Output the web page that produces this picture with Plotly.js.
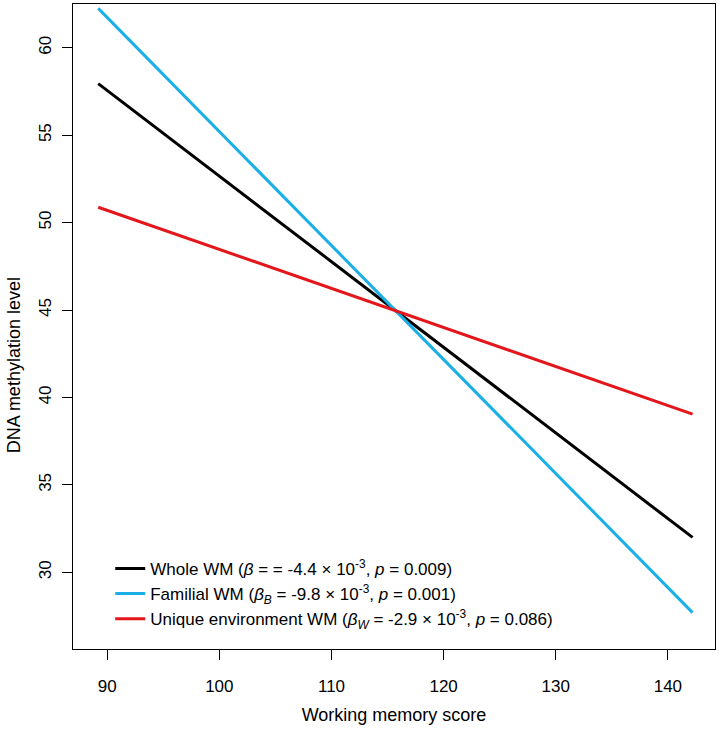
<!DOCTYPE html>
<html>
<head>
<meta charset="utf-8">
<script src="https://cdn.plot.ly/plotly-3.0.1.min.js"></script>
<style>body{margin:0;padding:0;background:#fff}#chart{width:719px;height:730px}</style>
</head>
<body>
<div id="chart"></div>
<script>
// Fitted lines: endpoints
const xEnds = [89.2, 142.2];
const wholeY = [57.95, 32.0];
const familialY = [62.25, 27.7];
const uniqueY = [50.88, 39.05];

const seriesNames = [
  "Whole WM (<i>β</i> = = -4.4 × 10<sup>-3</sup>, <i>p</i> = 0.009)",
  "Familial WM (<i>β<sub>B</sub></i> = -9.8 × 10<sup>-3</sup>, <i>p</i> = 0.001)",
  "Unique environment WM (<i>β<sub>W</sub></i> = -2.9 × 10<sup>-3</sup>, <i>p</i> = 0.086)"
];
const seriesColors = ["#000000", "#1AAFE6", "#E3161B"];

const xTicks = [90, 100, 110, 120, 130, 140];
const yTicks = [30, 35, 40, 45, 50, 55, 60];
const xTitle = "Working memory score";
const yTitle = "DNA methylation level";

const ys = [wholeY, familialY, uniqueY];
const traces = ys.map((y, i) => ({
  x: xEnds, y: y, type: "scatter", mode: "lines",
  name: seriesNames[i], legendgroup: "g" + i,
  line: {color: seriesColors[i], width: 3},
  hoverinfo: "skip"
}));

const font = {family: "Liberation Sans, Arial, sans-serif", color: "#000"};

const layout = {
  width: 719, height: 730,
  margin: {l: 73, r: 4, t: 4, b: 81},
  paper_bgcolor: "#fff", plot_bgcolor: "#fff",
  font: Object.assign({size: 17}, font),
  showlegend: true,
  legend: {
    x: 0.058, y: 0.152, xanchor: "left", yanchor: "top",
    bgcolor: "rgba(0,0,0,0)", borderwidth: 0,
    font: Object.assign({size: 17}, font),
    tracegroupgap: 3, traceorder: "normal"
  },
  xaxis: {
    range: [86.95, 144.2], tickvals: xTicks, ticktext: xTicks.map(String),
    ticks: "outside", ticklen: 10, tickwidth: 1, tickcolor: "#000",
    showline: true, linecolor: "#000", linewidth: 1, mirror: true,
    showgrid: false, zeroline: false,
    tickfont: Object.assign({size: 17}, font),
    ticklabelstandoff: 12,
    title: {text: xTitle, font: Object.assign({size: 18}, font), standoff: 12}
  },
  yaxis: {
    range: [25.62, 62.5], tickvals: yTicks, ticktext: yTicks.map(String),
    ticks: "outside", ticklen: 10, tickwidth: 1, tickcolor: "#000",
    showline: true, linecolor: "#000", linewidth: 1, mirror: true,
    showgrid: false, zeroline: false, tickangle: -90,
    tickfont: Object.assign({size: 17}, font),
    ticklabelstandoff: 4
  },
  annotations: [{
    text: yTitle, textangle: -90, showarrow: false,
    xref: "paper", yref: "paper", x: -0.092, y: 0.44,
    xanchor: "center", yanchor: "middle",
    font: Object.assign({size: 18}, font)
  }]
};

Plotly.newPlot("chart", traces, layout, {displayModeBar: false, staticPlot: true});
</script>
</body>
</html>
